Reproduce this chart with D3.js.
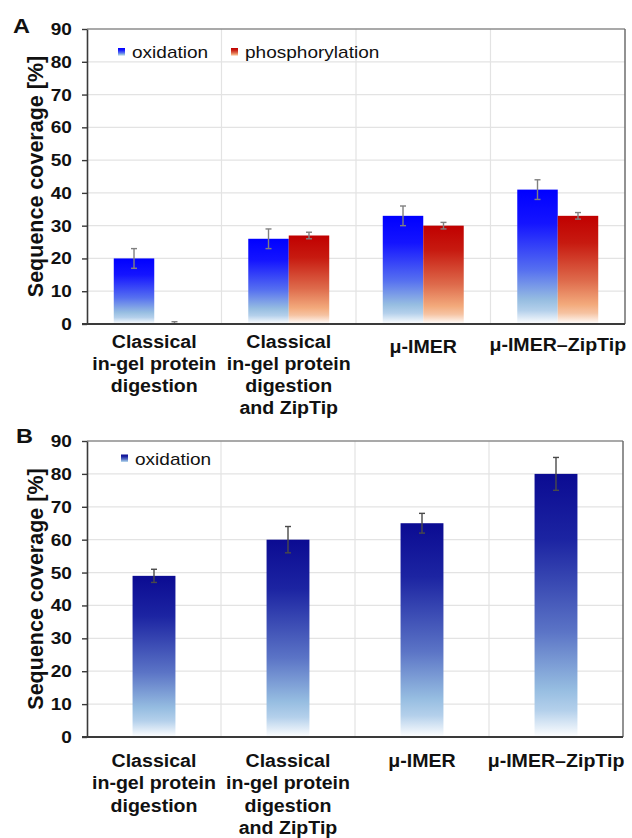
<!DOCTYPE html>
<html>
<head>
<meta charset="utf-8">
<script src="https://cdn.jsdelivr.net/npm/d3@7"></script>
<style>
  html, body { margin: 0; padding: 0; background: #fff; }
  svg { display: block; font-family: Arial, "Liberation Sans", sans-serif; }
</style>
</head>
<body>
<svg id="chart" width="632" height="838"></svg>
<script>
// ---------- DATA ----------
const categories = [
  "Classical\nin-gel protein\ndigestion",
  "Classical\nin-gel protein\ndigestion\nand ZipTip",
  "μ-IMER",
  "μ-IMER–ZipTip"
];
const yTicks = [0, 10, 20, 30, 40, 50, 60, 70, 80, 90];

const oxidationA = [20, 26, 33, 41];
const oxidationErrA = [3, 3, 3, 3];
const phosphorylationA = [0, 27, 30, 33];
const phosphorylationErrA = [0.7, 1, 1, 1];

const oxidationB = [49, 60, 65, 80];
const oxidationErrB = [2, 4, 3, 5];

const seriesNamesA = ["oxidation", "phosphorylation"];
const seriesNamesB = ["oxidation"];

// ---------- SETUP ----------
const svg = d3.select("#chart");
const defs = svg.append("defs");
const SX = 1.12; // horizontal text stretch as in reference

function makeGrad(id, stops) {
  const g = defs.append("linearGradient").attr("id", id)
    .attr("x1", 0).attr("y1", 0).attr("x2", 0).attr("y2", 1);
  stops.forEach(s => g.append("stop").attr("offset", s[0]).attr("stop-color", s[1]));
}
makeGrad("gBlue", [[0, "#0000FF"], [0.25, "#1414FF"], [0.6, "#5670F0"], [0.82, "#96BDE1"], [0.9, "#B4D0EB"], [1, "#FFFFFF"]]);
makeGrad("gRed", [[0, "#C00000"], [0.25, "#C71A10"], [0.6, "#DE6B4C"], [0.82, "#F3AA7C"], [0.9, "#F6C3A2"], [1, "#FFFFFF"]]);
makeGrad("gNavy", [[0, "#0B0B92"], [0.25, "#1C24A2"], [0.6, "#5B74C6"], [0.82, "#96BDE1"], [0.9, "#B4D0EB"], [1, "#FFFFFF"]]);

function panel(opts) {
  const { left, right, top, bottom, series, label, labelPos, legendItems, legendPos,
          labelBase, labelStep, labelOffsets, barWidthFrac, errColor } = opts;
  const g = svg.append("g");
  const x = d3.scaleBand().domain(d3.range(categories.length)).range([left, right]).padding(0);
  const y = d3.scaleLinear().domain([0, 90]).range([bottom, top]);

  // horizontal gridlines
  g.append("g").selectAll("line").data(yTicks.filter(t => t > 0 && t < 90)).join("line")
    .attr("x1", left).attr("x2", right)
    .attr("y1", d => y(d)).attr("y2", d => y(d))
    .attr("stroke", "#E3E3E3").attr("stroke-width", 1.2);
  // vertical gridlines (category boundaries)
  g.append("g").selectAll("line").data(d3.range(1, categories.length)).join("line")
    .attr("x1", d => x(d)).attr("x2", d => x(d))
    .attr("y1", top).attr("y2", bottom)
    .attr("stroke", "#E3E3E3").attr("stroke-width", 1.2);

  // bars
  const nS = series.length;
  const bw = x.bandwidth() * barWidthFrac;
  series.forEach((s, si) => {
    const off = -nS * bw / 2 + si * bw;
    g.append("g").selectAll("rect").data(s.values).join("rect")
      .attr("x", (d, i) => x(i) + x.bandwidth() / 2 + off)
      .attr("width", bw)
      .attr("y", d => y(d))
      .attr("height", d => y(0) - y(d))
      .attr("fill", `url(#${s.grad})`);
  });
  // error bars
  series.forEach((s, si) => {
    const off = -nS * bw / 2 + si * bw + bw / 2;
    const eg = g.append("g").attr("stroke", errColor).attr("stroke-width", 1.4).attr("fill", "none");
    s.values.forEach((v, i) => {
      const cx = x(i) + x.bandwidth() / 2 + off;
      const e = s.errors[i];
      const y1 = y(v + e), y2 = y(Math.max(0, v - e));
      eg.append("line").attr("x1", cx).attr("x2", cx).attr("y1", y1).attr("y2", y2);
      eg.append("line").attr("x1", cx - 3).attr("x2", cx + 3).attr("y1", y1).attr("y2", y1);
      if (v - e > 0) eg.append("line").attr("x1", cx - 3).attr("x2", cx + 3).attr("y1", y2).attr("y2", y2);
    });
  });

  // plot border top & right
  g.append("line").attr("x1", left).attr("x2", right).attr("y1", top).attr("y2", top)
    .attr("stroke", "#8C8C8C").attr("stroke-width", 1.5);
  g.append("line").attr("x1", right).attr("x2", right).attr("y1", top).attr("y2", bottom)
    .attr("stroke", "#6E6E6E").attr("stroke-width", 1.5);

  // y axis
  const ya = g.append("g").attr("transform", `translate(${left},0)`)
    .call(d3.axisLeft(y).tickValues(yTicks).tickSize(5).tickPadding(8.5).tickSizeOuter(0));
  ya.select(".domain").attr("stroke", "#3A3A3A").attr("stroke-width", 1.6);
  ya.selectAll(".tick line").attr("stroke", "#3A3A3A").attr("stroke-width", 1.4);
  ya.selectAll(".tick text")
    .attr("font-size", 17).attr("font-weight", "bold").attr("fill", "#111")
    .attr("font-family", "Arial, 'Liberation Sans', sans-serif")
    .attr("transform", `scale(${SX},1)`);

  // x axis line
  g.append("line").attr("x1", left - 5).attr("x2", right).attr("y1", bottom).attr("y2", bottom)
    .attr("stroke", "#3A3A3A").attr("stroke-width", 2);

  // category labels
  categories.forEach((c, i) => {
    const lines = c.split("\n");
    const cx = x(i) + x.bandwidth() / 2;
    lines.forEach((ln, li) => {
      g.append("text")
        .attr("transform", `translate(${cx},${labelBase + (labelOffsets[i] || 0) + li * labelStep}) scale(${SX},1)`)
        .attr("text-anchor", "middle")
        .attr("font-size", 17.5).attr("font-weight", "bold").attr("fill", "#111")
        .text(ln);
    });
  });

  // y title
  g.append("text")
    .attr("transform", `translate(42.5,${(top + bottom) / 2}) rotate(-90)`)
    .attr("text-anchor", "middle")
    .attr("font-size", 21.5).attr("font-weight", "bold").attr("fill", "#111")
    .text("Sequence coverage [%]");

  // panel letter
  g.append("text")
    .attr("transform", `translate(${labelPos[0]},${labelPos[1]}) scale(${SX},1)`)
    .attr("font-size", 21).attr("font-weight", "bold").attr("fill", "#111")
    .text(label);

  // legend
  legendItems.forEach((it, k) => {
    const lx = legendPos[k][0], ly = legendPos[k][1];
    g.append("rect").attr("x", lx).attr("y", ly - 10).attr("width", 7).attr("height", 8)
      .attr("fill", `url(#${it.grad})`);
    g.append("text")
      .attr("transform", `translate(${lx + 14},${ly}) scale(${SX},1)`)
      .attr("font-size", 17).attr("fill", "#111")
      .text(it.name);
  });
}

panel({
  left: 87, right: 625, top: 29, bottom: 324,
  series: [
    { values: oxidationA, errors: oxidationErrA, grad: "gBlue" },
    { values: phosphorylationA, errors: phosphorylationErrA, grad: "gRed" }
  ],
  label: "A", labelPos: [13, 32.5],
  legendItems: [{ name: seriesNamesA[0], grad: "gBlue" }, { name: seriesNamesA[1], grad: "gRed" }],
  legendPos: [[118, 58], [231, 58]],
  labelBase: 348, labelStep: 22, labelOffsets: [0, 0, 5, 3],
  barWidthFrac: 0.301, errColor: "#808080"
});

panel({
  left: 87, right: 623, top: 441, bottom: 737,
  series: [{ values: oxidationB, errors: oxidationErrB, grad: "gNavy" }],
  label: "B", labelPos: [16, 443],
  legendItems: [{ name: seriesNamesB[0], grad: "gNavy" }],
  legendPos: [[121, 464.5]],
  labelBase: 767, labelStep: 22.3, labelOffsets: [0, 0, 0, 0],
  barWidthFrac: 0.32, errColor: "#4A4A4A"
});
</script>
</body>
</html>
